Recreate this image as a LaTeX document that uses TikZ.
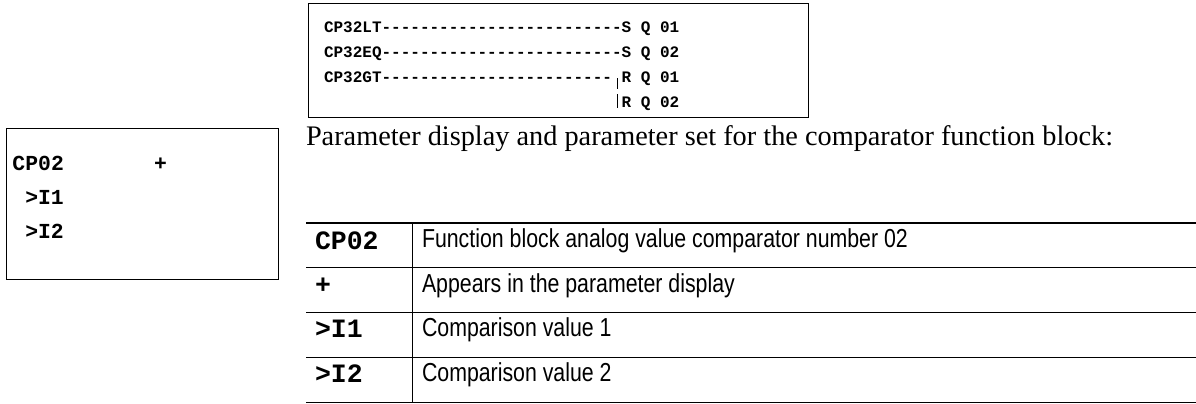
\documentclass[tikz,border=0pt]{standalone}
\usepackage{fontspec}
\setmainfont{Liberation Serif}
\newfontfamily\codefont[Ligatures=TeXOff]{Liberation Mono}
\newfontfamily\descfont[FakeStretch=0.82]{Liberation Sans}
\tikzset{
  txt/.style={anchor=base west, inner sep=0pt, outer sep=0pt},
  topcode/.style={txt, font=\codefont\bfseries\fontsize{16}{18}\selectfont},
  boxcode/.style={txt, font=\codefont\bfseries\fontsize{21.4}{24}\selectfont},
  tabcode/.style={txt, font=\codefont\bfseries\fontsize{26.5}{30}\selectfont},
  desc/.style={txt, font=\descfont\fontsize{26}{30}\selectfont},
  para/.style={txt, font=\fontsize{28.3}{32}\selectfont},
  frame/.style={draw, line width=1pt},
  rulethin/.style={line width=1pt},
  rulethick/.style={line width=1.8pt},
}
\begin{document}
\begin{tikzpicture}[x=1pt, y=-1pt]
\useasboundingbox (0,0) rectangle (1196,404);
% top function-block box
\draw[frame] (308,4) rectangle (808,117);
\node[topcode] (l1) at (324,33)  {CP32LT-------------------------S Q 01};
\node[topcode] (l2) at (324,58)  {CP32EQ-------------------------S Q 02};
\node[topcode] (l3) at (324,82.5) {CP32GT------------------------ R Q 01};
\node[topcode] (l4) at (621.6,107) {R Q 02};
\draw[line width=1pt] (617,78) -- (617,89);
\draw[line width=1pt] (617,94) -- (617,108);
% left parameter display box
\draw[frame] (6,128) rectangle (278,279);
\node[boxcode] (cp) at (12.5,170) {CP02};
\node[boxcode] (plus) at (154,170) {+};
\node[boxcode] (i1) at (25.3,204) {>I1};
\node[boxcode] (i2) at (25.3,238) {>I2};
% paragraph
\node[para] (par) at (306,145) {Parameter display and parameter set for the comparator function block:};
% table
\draw[rulethick] (306,223) -- (1196,223);
\draw[rulethin] (306,267.5) -- (1196,267.5);
\draw[rulethin] (306,312) -- (1196,312);
\draw[rulethin] (306,357) -- (1196,357);
\draw[rulethin] (306,402) -- (1196,402);
\draw[rulethin] (412,223) -- (412,402);
\node[tabcode] (c1) at (315,249) {CP02};
\node[tabcode] (c2) at (315,293) {+};
\node[tabcode] (c3) at (315,337) {>I1};
\node[tabcode] (c4) at (315,382) {>I2};
\node[desc] (d1) at (422,247.5) {Function block analog value comparator number 02};
\node[desc] (d2) at (422,292) {Appears in the parameter display};
\node[desc] (d3) at (422,336.5) {Comparison value 1};
\node[desc] (d4) at (422,381.5) {Comparison value 2};
\end{tikzpicture}
\end{document}
